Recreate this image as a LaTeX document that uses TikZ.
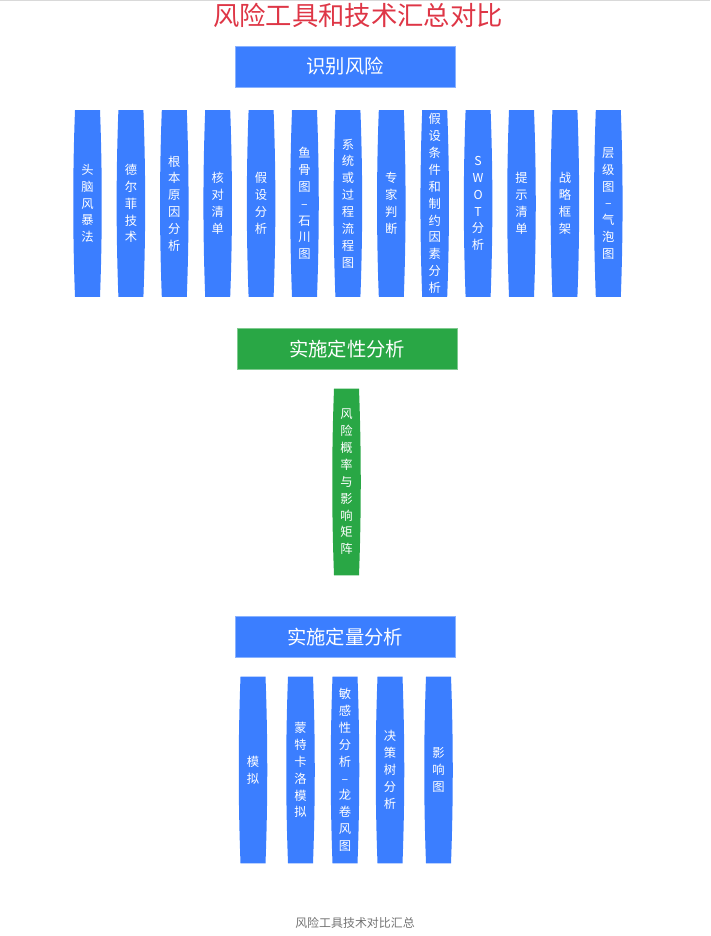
\documentclass[tikz,border=0pt]{standalone}
\usepackage{fontspec}
\setmainfont{Noto Sans CJK SC}
\usetikzlibrary{calc}
\definecolor{riskblue}{RGB}{59,126,255}
\definecolor{riskgreen}{RGB}{41,167,69}
\definecolor{riskred}{RGB}{222,54,70}
\begin{document}
\begin{tikzpicture}[x=0.02cm,y=-0.02cm,
        head/.style={draw=#1!60!white,fill=#1,rectangle,inner sep=0pt,minimum width=4.4cm,minimum height=0.82cm,text=white,font=\fontsize{11}{13}\selectfont},
        pill/.style={rectangle,inner sep=0pt,minimum width=0.57cm,minimum height=3.74cm,text=white,align=center,font=\fontsize{7}{9.6}\selectfont,
          path picture={\fill[#1] let \p1=(path picture bounding box.north west), \p2=(path picture bounding box.south east), \n1={(\y1-\y2)/3} in
            (\x1+1pt,\y1) -- (\x2-1pt,\y1) .. controls (\x2+0.34pt,\y1-\n1*1pt) and (\x2+0.34pt,\y2+\n1*1pt) .. (\x2-1pt,\y2)
            -- (\x1+1pt,\y2) .. controls (\x1-0.34pt,\y2+\n1*1pt) and (\x1-0.34pt,\y1-\n1*1pt) .. cycle;}}
      ]
      \useasboundingbox (0,0) rectangle (710,936);
      \draw[black!15,line width=1.2pt] (0,0) -- (710,0);
      \node[text=riskred,font=\fontsize{15}{18}\selectfont] (title) at (358,15) {风险工具和技术汇总对比};
      % identify
      \node[head=riskblue] (ident) at (345,66.5) {识别风险};
      \node[pill=riskblue] (p1) at (87.5,203.5) {头\\脑\\风\\暴\\法};
      \node[pill=riskblue] (p2) at (130.9,203.5) {德\\尔\\菲\\技\\术};
      \node[pill=riskblue] (p3) at (174.3,203.5) {根\\本\\原\\因\\分\\析};
      \node[pill=riskblue] (p4) at (217.7,203.5) {核\\对\\清\\单};
      \node[pill=riskblue] (p5) at (261.1,203.5) {假\\设\\分\\析};
      \node[pill=riskblue] (p6) at (304.5,203.5) {鱼\\骨\\图\\–\\石\\川\\图};
      \node[pill=riskblue] (p7) at (347.9,203.5) {系\\统\\或\\过\\程\\流\\程\\图};
      \node[pill=riskblue] (p8) at (391.3,203.5) {专\\家\\判\\断};
      \node[pill=riskblue] (p9) at (434.7,203.5) {假\\设\\条\\件\\和\\制\\约\\因\\素\\分\\析};
      \node[pill=riskblue] (p10) at (478.1,203.5) {S\\W\\O\\T\\分\\析};
      \node[pill=riskblue] (p11) at (521.5,203.5) {提\\示\\清\\单};
      \node[pill=riskblue] (p12) at (564.9,203.5) {战\\略\\框\\架};
      \node[pill=riskblue] (p13) at (608.3,203.5) {层\\级\\图\\–\\气\\泡\\图};
      % qualitative
      \node[head=riskgreen] (qual) at (347,349) {实施定性分析};
      \node[pill=riskgreen] (g1) at (346.5,482) {风\\险\\概\\率\\与\\影\\响\\矩\\阵};
      % quantitative
      \node[head=riskblue] (quant) at (345,637) {实施定量分析};
      \node[pill=riskblue] (q1) at (253,770) {模\\拟};
      \node[pill=riskblue] (q2) at (300.5,770) {蒙\\特\\卡\\洛\\模\\拟};
      \node[pill=riskblue] (q3) at (345,770) {敏\\感\\性\\分\\析\\–\\龙\\卷\\风\\图};
      \node[pill=riskblue] (q4) at (390,770) {决\\策\\树\\分\\析};
      \node[pill=riskblue] (q5) at (438.5,770) {影\\响\\图};
      \node[text=black!55,font=\fontsize{6.8}{8}\selectfont] (caption) at (355,923) {风险工具技术对比汇总};
    \end{tikzpicture}
\end{document}
